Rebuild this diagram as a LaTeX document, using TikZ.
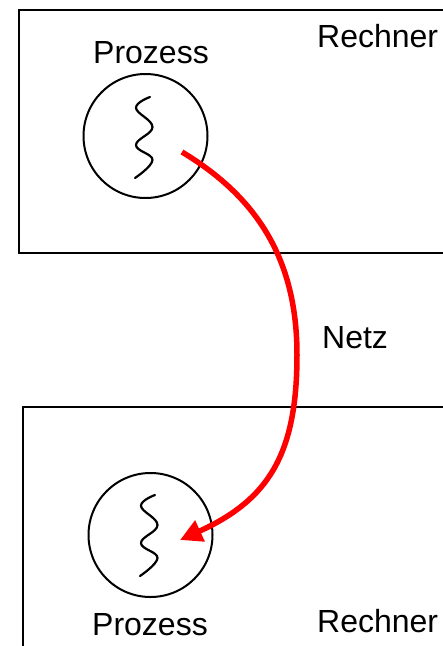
\documentclass[tikz,border=0pt]{standalone}
\usepackage{fontspec}
\setmainfont{Liberation Sans}
\usetikzlibrary{arrows.meta}
\begin{document}
\begin{tikzpicture}[x=1pt,y=-1pt,
  box/.style={draw=black,line width=2pt},
  proc/.style={circle,draw=black,line width=2pt,minimum size=124pt,inner sep=0pt},
  squig/.style={draw=black,line width=2.2pt,line cap=round},
  lbl/.style={font=\fontsize{32}{36}\selectfont,anchor=base west,inner sep=0pt},
  net/.style={draw=red,line width=5.5pt,-{Triangle[length=22pt,width=22pt]}}]
\useasboundingbox (0,0) rectangle (443,646);
\clip (0,0) rectangle (443,646);
\fill[white] (0,0) rectangle (443,646);
% boxes
\draw[box] (460,10) -- (19,10) -- (19,253) -- (460,253);
\draw[box] (460,407) -- (23,407) -- (23,660);
% processes
\node[proc] (p1) at (145.5,136) {};
\node[proc] (p2) at (150.5,535) {};
\draw[squig] plot[smooth,tension=0.7] coordinates {(150,97) (136,108) (152.5,127) (136,145) (152.5,160) (135,178)};
\draw[squig] plot[smooth,tension=0.7] coordinates {(155,495) (141,506) (157.5,525) (141,543) (157.5,558) (140,576)};
% labels
\node[lbl] (t1) at (93,63) {Prozess};
\node[lbl] (t2) at (317,47) {Rechner};
\node[lbl] (t3) at (322,348) {Netz};
\node[lbl] (t4) at (92,635) {Prozess};
\node[lbl] (t5) at (317,632) {Rechner};
% network connector
\coordinate (src) at (182,152);
\coordinate (mid) at (297,355);
\coordinate (dst) at (180,540);
\draw[net] (src) .. controls (262,200) and (297,265) .. (mid)
  .. controls (297,455) and (268,500) .. (dst);
\end{tikzpicture}
\end{document}
